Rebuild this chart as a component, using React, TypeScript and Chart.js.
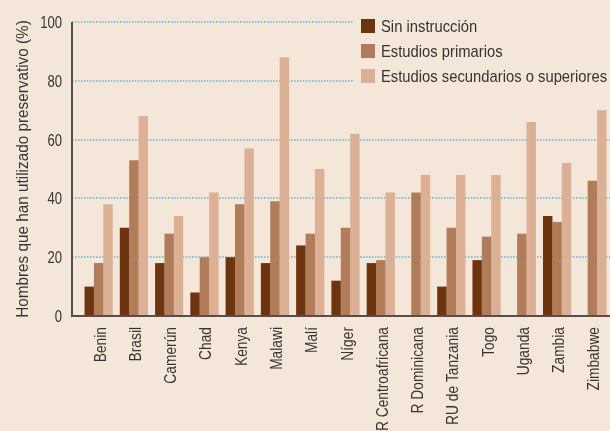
import React, { useEffect, useRef } from "react";
import { Chart, registerables } from "chart.js";

Chart.register(...registerables);

const categories = [
  "Benin", "Brasil", "Camerún", "Chad", "Kenya", "Malawi", "Malí", "Níger",
  "R Centroafricana", "R Dominicana", "RU de Tanzania", "Togo", "Uganda", "Zambia", "Zimbabwe",
];
const seriesLabels = ["Sin instrucción", "Estudios primarios", "Estudios secundarios o superiores"];
const sinInstruccion = [10, 30, 18, 8, 20, 18, 24, 12, 18, null, 10, 19, null, 34, null];
const estudiosPrimarios = [18, 53, 28, 20, 38, 39, 28, 30, 19, 42, 30, 27, 28, 32, 46];
const estudiosSecundarios = [38, 68, 34, 42, 57, 88, 50, 62, 42, 48, 48, 48, 66, 52, 70];
const yTicks = [0, 20, 40, 60, 80, 100];
const yTitle = "Hombres que han utilizado preservativo (%)";

const BG = "#f4e6d9";
const COLORS = ["#6c3510", "#b07c59", "#dcb095"];
const TEXT = "#383432";
const FONT = "'Liberation Sans', Arial, sans-serif";

function condensedText(ctx: any, text: string, x: number, y: number, rot: number, sx: number, align: string, dy: number) {
  ctx.save();
  ctx.translate(x, y);
  if (rot) ctx.rotate(rot);
  ctx.scale(sx, 1);
  ctx.textAlign = align;
  ctx.textBaseline = "alphabetic";
  ctx.fillText(text, 0, dy);
  ctx.restore();
}

const decor = {
  id: "decor",
  beforeDatasetsDraw(chart: any) {
    const { ctx, chartArea, scales } = chart;
    const y = scales.y;
    const left = chartArea.left - 9;
    ctx.save();
    ctx.strokeStyle = "#6fb0d0";
    ctx.lineWidth = 1.5;
    ctx.setLineDash([1.5, 1.5]);
    for (const v of yTicks) {
      if (v === 0) continue;
      const py = Math.round(y.getPixelForValue(v));
      ctx.beginPath();
      ctx.moveTo(left, py);
      ctx.lineTo(chart.width, py);
      ctx.stroke();
    }
    ctx.setLineDash([]);
    ctx.fillStyle = BG;
    ctx.fillRect(354, 6, chart.width - 354, 84);
    ctx.restore();
  },
  afterDatasetsDraw(chart: any) {
    const { ctx, chartArea, scales } = chart;
    const y = scales.y;
    const x = scales.x;
    const left = chartArea.left - 9;
    const y0 = y.getPixelForValue(0);
    ctx.save();
    ctx.strokeStyle = "#574e4a";
    ctx.lineWidth = 2;
    ctx.beginPath();
    ctx.moveTo(left, y.getPixelForValue(100));
    ctx.lineTo(left, y0);
    ctx.lineTo(chart.width, y0);
    ctx.stroke();

    ctx.fillStyle = TEXT;
    // y tick labels
    ctx.font = `17px ${FONT}`;
    y.ticks.forEach((t: any) => {
      condensedText(ctx, String(t.value), left - 10, y.getPixelForValue(t.value), 0, 0.77, "right", 6);
    });
    // x tick labels
    ctx.font = `17px ${FONT}`;
    x.ticks.forEach((t: any, i: number) => {
      const label = categories[t.value] ?? String(t.label);
      condensedText(ctx, label, x.getPixelForTick(i), y0 + 11, -Math.PI / 2, 0.81, "right", 7);
    });
    // y title
    ctx.font = `17px ${FONT}`;
    condensedText(ctx, yTitle, 28, (chartArea.top + chartArea.bottom) / 2, -Math.PI / 2, 0.9, "center", 0);

    // legend
    ctx.font = `17px ${FONT}`;
    seriesLabels.forEach((label, i) => {
      const cy = 26 + i * 25;
      ctx.fillStyle = COLORS[i];
      ctx.fillRect(361, cy - 7, 14, 14);
      ctx.fillStyle = TEXT;
      condensedText(ctx, label, 381, cy + 6, 0, 0.87, "left", 0);
    });
    ctx.restore();
  },
};

export default function App() {
  const ref = useRef<HTMLCanvasElement | null>(null);
  useEffect(() => {
    if (!ref.current) return;
    const chart = new Chart(ref.current, {
      type: "bar",
      data: {
        labels: categories,
        datasets: [
          { label: seriesLabels[0], data: sinInstruccion, backgroundColor: COLORS[0] },
          { label: seriesLabels[1], data: estudiosPrimarios, backgroundColor: COLORS[1] },
          { label: seriesLabels[2], data: estudiosSecundarios, backgroundColor: COLORS[2] },
        ],
      },
      options: {
        animation: false,
        responsive: false,
        devicePixelRatio: 1,
        layout: { padding: { top: 22, right: 0, left: 0, bottom: 0 } },
        datasets: { bar: { categoryPercentage: 0.8, barPercentage: 1.0 } },
        plugins: { legend: { display: false }, tooltip: { enabled: false } },
        scales: {
          x: {
            grid: { display: false, drawTicks: false },
            border: { display: false },
            ticks: { display: false, autoSkip: false },
            afterFit: (s: any) => { s.height = 115; },
          },
          y: {
            min: 0,
            max: 100,
            grid: { display: false, drawTicks: false },
            border: { display: false },
            ticks: { display: false, stepSize: 20 },
            afterFit: (s: any) => { s.width = 81; },
          },
        },
      },
      plugins: [decor],
    });
    return () => chart.destroy();
  }, []);
  return (
    <div style={{ position: "fixed", left: 0, top: 0, width: 610, height: 431, background: BG, overflow: "hidden" }}>
      <canvas ref={ref} width={610} height={431} style={{ display: "block", width: 610, height: 431 }} />
    </div>
  );
}
